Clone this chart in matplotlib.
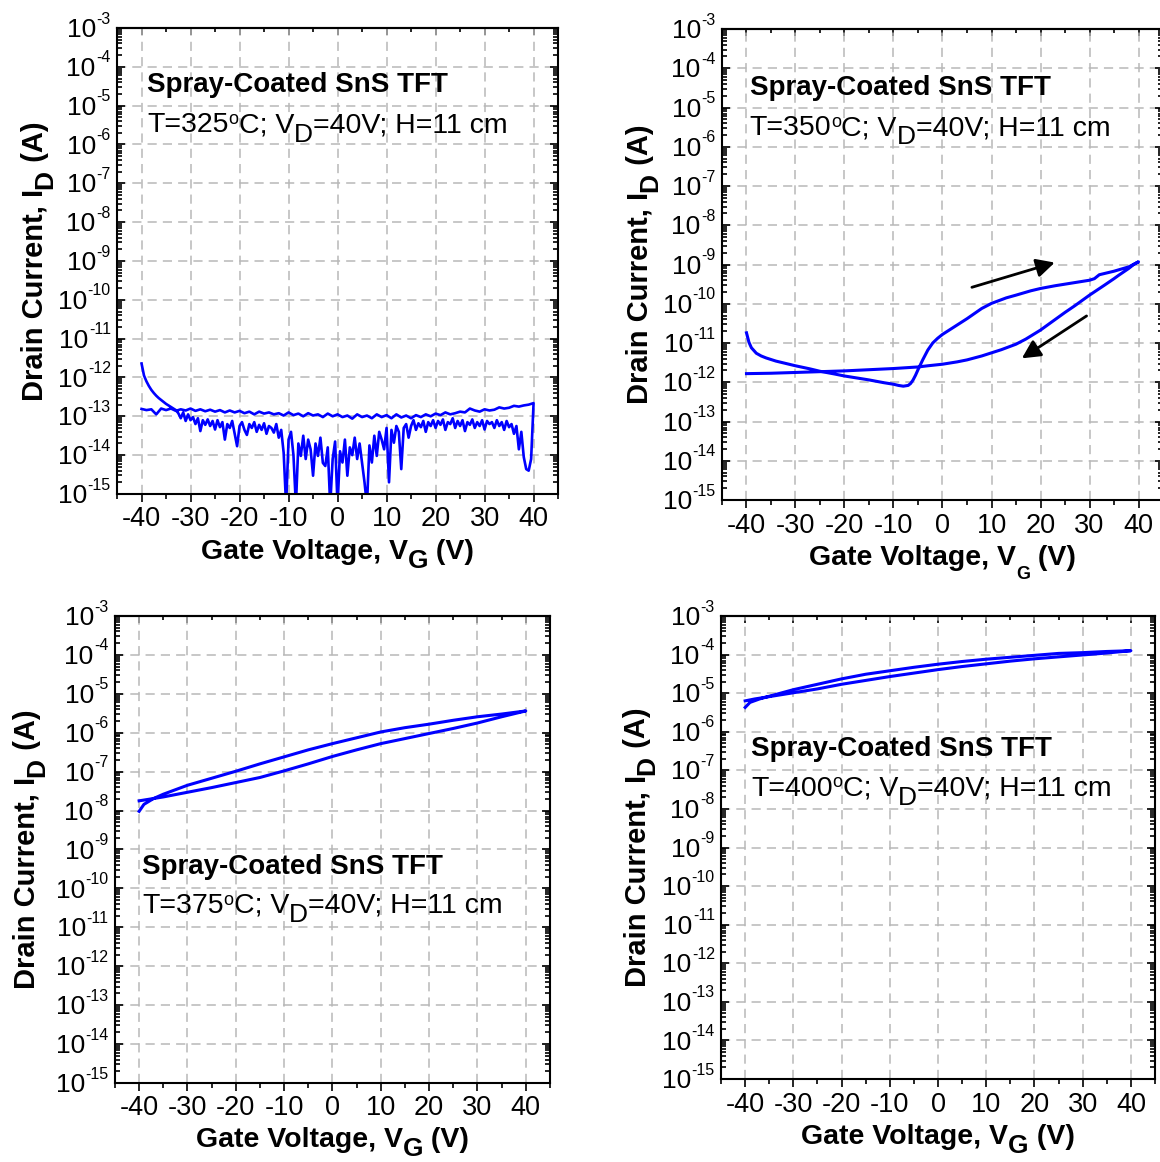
"""Four-panel transfer curves (I_D vs V_G) of spray-coated SnS TFTs."""

import numpy as np
import matplotlib
matplotlib.use("Agg", force=True)
import matplotlib.pyplot as plt
from matplotlib.ticker import LogLocator, MultipleLocator, NullFormatter

matplotlib.rcParams.update({
    "font.family": "Liberation Sans",
    "axes.unicode_minus": False,
})

# --- panel (a) T=325 C: noisy off-current, log10(I_D), sweep -40 -> 40 in 0.5 V steps
P1_FWD_LOG = [
    -11.64, -11.95, -12.10, -12.22, -12.32, -12.40, -12.47, -12.53, -12.58, -12.63,
    -12.68, -12.72, -12.76, -12.80, -12.84, -12.92, -13.05, -12.90, -13.12, -12.95,
    -13.10, -13.02, -13.20, -13.05, -13.38, -13.10, -13.22, -13.08, -13.25, -13.12,
    -13.34, -13.10, -13.28, -13.15, -13.60, -13.20, -13.30, -13.12, -13.45, -13.77,
    -13.25, -13.15, -13.35, -13.48, -13.20, -13.30, -13.15, -13.40, -13.22, -13.35,
    -13.18, -13.45, -13.25, -13.30, -13.42, -13.20, -13.55, -13.35, -13.94, -15.30,
    -13.60, -13.40, -14.00, -15.30, -13.70, -14.02, -13.50, -14.10, -13.60, -13.85,
    -14.53, -13.70, -14.02, -13.55, -14.20, -14.28, -13.80, -15.30, -14.10, -13.65,
    -15.30, -13.90, -14.19, -13.60, -14.53, -13.80, -14.00, -13.55, -14.10, -13.70,
    -14.20, -14.70, -15.30, -13.75, -14.19, -13.50, -14.02, -13.40, -13.60, -13.85,
    -13.30, -14.70, -13.35, -13.68, -13.25, -13.40, -14.36, -13.30, -13.20, -13.55,
    -13.25, -13.10, -13.35, -13.18, -13.28, -13.12, -13.40, -13.15, -13.25, -13.10,
    -13.30, -13.12, -13.22, -13.08, -13.35, -13.15, -13.20, -13.05, -13.30, -13.12,
    -13.25, -13.10, -13.38, -13.15, -13.22, -13.08, -13.30, -13.15, -13.25, -13.10,
    -13.34, -13.12, -13.20, -13.15, -13.30, -13.10, -13.25, -13.15, -13.35, -13.12,
    -13.28, -13.20, -13.45, -13.25, -13.85, -13.40, -14.05, -14.36, -14.40, -14.10,
    -12.66,
]
# return sweep 40 -> -40 in 1 V steps
P1_REV_LOG = [
    -12.66, -12.70, -12.72, -12.75, -12.73, -12.78, -12.80, -12.77, -12.83, -12.85,
    -12.82, -12.88, -12.85, -12.80, -12.90, -12.88, -12.92, -12.95, -12.90, -12.97,
    -12.93, -13.00, -12.95, -13.02, -12.97, -13.05, -12.98, -13.03, -12.95, -13.05,
    -12.97, -13.02, -12.95, -13.05, -12.98, -13.02, -12.95, -13.06, -12.98, -13.02,
    -12.95, -13.00, -12.93, -13.02, -12.95, -12.98, -12.92, -13.00, -12.93, -12.97,
    -12.90, -12.98, -12.92, -12.95, -12.90, -12.93, -12.88, -12.95, -12.88, -12.92,
    -12.86, -12.90, -12.85, -12.90, -12.84, -12.88, -12.83, -12.87, -12.82, -12.86,
    -12.80, -12.85, -12.82, -12.86, -12.80, -12.84, -12.80, -12.95, -12.82, -12.84,
    -12.81,
]

# --- panel (b) T=350 C
P2_FWD_V = [-40, -39.5, -39, -38, -37, -36, -34, -32, -30, -27, -25, -22, -20, -17,
            -15, -12, -10, -9, -8, -7, -6.5, -6, -5.5, -5, -4.5, -4, -3, -2, -1, 0,
            2, 5, 8, 10, 13, 15, 18, 20, 23, 25, 28, 30, 31, 32, 33, 35, 38, 40]
P2_FWD_LOG = [-10.74, -10.98, -11.12, -11.26, -11.33, -11.38, -11.46, -11.52, -11.58,
              -11.66, -11.72, -11.79, -11.84, -11.90, -11.94, -12.01, -12.05, -12.08,
              -12.10, -12.08, -12.03, -11.94, -11.82, -11.68, -11.55, -11.42, -11.18,
              -11.00, -10.88, -10.78, -10.62, -10.38, -10.12, -9.99, -9.85, -9.78,
              -9.67, -9.61, -9.54, -9.50, -9.44, -9.40, -9.36, -9.26, -9.23, -9.17,
              -9.06, -8.93]
P2_REV_V = [40, 39, 38, 36, 35, 33, 30, 27, 25, 22, 20, 17, 15, 12, 10, 8, 5, 3, 0,
            -3, -5, -10, -15, -20, -25, -30, -35, -40]
P2_REV_LOG = [-8.93, -9.00, -9.10, -9.27, -9.36, -9.53, -9.78, -10.05, -10.22, -10.49,
              -10.67, -10.90, -11.03, -11.17, -11.25, -11.33, -11.43, -11.48, -11.54,
              -11.58, -11.61, -11.65, -11.68, -11.71, -11.73, -11.75, -11.77, -11.78]
# sweep-direction arrows: (tail V, tail log I, head V, head log I)
P2_ARROWS = [(6.0, -9.58, 22.9, -8.95), (29.4, -10.31, 16.2, -11.39)]

# --- panel (c) T=375 C
P3_FWD_V = [-40, -39, -37, -35, -30, -25, -20, -15, -10, -5, 0, 5, 10, 15, 20, 25, 30, 35, 40]
P3_FWD_LOG = [-8.02, -7.84, -7.69, -7.58, -7.35, -7.17, -6.99, -6.80, -6.62, -6.44,
              -6.28, -6.13, -5.98, -5.87, -5.78, -5.68, -5.59, -5.52, -5.44]
P3_REV_V = [40, 35, 30, 25, 20, 15, 10, 5, 0, -5, -10, -15, -20, -25, -30, -35, -38, -40]
P3_REV_LOG = [-5.44, -5.59, -5.75, -5.89, -6.02, -6.15, -6.28, -6.44, -6.61, -6.80,
              -6.98, -7.15, -7.28, -7.41, -7.53, -7.65, -7.71, -7.75]

# --- panel (d) T=400 C
P4_FWD_V = [-40, -39, -37, -35, -30, -25, -20, -15, -10, -5, 0, 5, 10, 15, 20, 25, 30, 35, 40]
P4_FWD_LOG = [-5.37, -5.24, -5.15, -5.08, -4.91, -4.77, -4.63, -4.51, -4.42, -4.33,
              -4.25, -4.18, -4.12, -4.07, -4.02, -3.97, -3.95, -3.92, -3.90]
P4_REV_V = [40, 35, 30, 25, 20, 15, 10, 5, 0, -5, -10, -15, -20, -25, -30, -35, -38, -40]
P4_REV_LOG = [-3.90, -3.96, -4.01, -4.06, -4.11, -4.17, -4.24, -4.31, -4.39, -4.48,
              -4.57, -4.67, -4.77, -4.89, -4.99, -5.09, -5.15, -5.20]

TEMPS = [325, 350, 375, 400]
DECADES = list(range(-15, -2))

RECTS = [
    (0.1009, 0.5749, 0.3802, 0.4010),
    (0.6224, 0.5697, 0.3802, 0.4053),
    (0.0991, 0.0680, 0.3750, 0.4019),
    (0.6216, 0.0714, 0.3741, 0.3985),
]
# (text x, title baseline y, condition baseline y, ylabel baseline x, xlabel baseline y)
TEXT_POS = [
    (0.068, 0.862, 0.776, -0.168, -0.1395),
    (0.063, 0.861, 0.775, -0.168, -0.138),
    (0.062, 0.447, 0.364, -0.184, -0.138),
    (0.069, 0.698, 0.612, -0.175, -0.141),
]
# x-label subscript (size, drop) -- panel (b) has a smaller G
XSUB = [(19, 6.5), (13, 10), (19, 6.5), (19, 6.5)]

BLUE = "#0000ff"


def style_axes(ax):
    ax.set_yscale("log")
    ax.set_xlim(-45, 45)
    ax.set_ylim(1e-15, 1e-3)
    ax.xaxis.set_major_locator(MultipleLocator(10))
    ax.xaxis.set_minor_locator(MultipleLocator(5))
    ax.yaxis.set_major_locator(LogLocator(base=10, numticks=100))
    ax.yaxis.set_minor_locator(LogLocator(base=10, subs=np.arange(2, 10), numticks=100))
    ax.yaxis.set_major_formatter(NullFormatter())
    ax.yaxis.set_minor_formatter(NullFormatter())
    ax.grid(True, which="major", color="#b8b8b8", linestyle=(0, (6, 4)), linewidth=1.1)
    for sp in ax.spines.values():
        sp.set_linewidth(1.5)
    ax.tick_params(axis="x", which="both", direction="out", top=False, labelsize=19.5,
                   width=1.2, pad=3)
    ax.tick_params(axis="x", which="major", length=6)
    ax.tick_params(axis="x", which="minor", length=3.5)
    ax.tick_params(axis="y", which="both", direction="in", left=True, right=True, width=1.2)
    ax.tick_params(axis="y", which="major", length=6)
    ax.tick_params(axis="y", which="minor", length=3.5)
    top = ax.secondary_xaxis("top")
    top.xaxis.set_major_locator(MultipleLocator(10))
    top.xaxis.set_minor_locator(MultipleLocator(5))
    top.xaxis.set_major_formatter(NullFormatter())
    top.tick_params(axis="x", which="both", direction="in", width=1.2)
    top.tick_params(axis="x", which="major", length=5)
    top.tick_params(axis="x", which="minor", length=3)
    top.spines["top"].set_linewidth(1.5)


def decade_labels(ax, renderer):
    # Origin-style "10" with a small raised exponent, right-aligned to the spine
    for e in DECADES:
        sup = ax.annotate(f"{e}", xy=(0, 10.0 ** e), xycoords=("axes fraction", "data"),
                          xytext=(-4.5, 3.2), textcoords="offset points",
                          ha="right", va="baseline", fontsize=11.5, annotation_clip=False)
        w = sup.get_window_extent(renderer).width * 72 / ax.figure.dpi
        ax.annotate("10", xy=(0, 10.0 ** e), xycoords=("axes fraction", "data"),
                    xytext=(-4.5 - w - 0.5, -6.6), textcoords="offset points",
                    ha="right", va="baseline", fontsize=19, annotation_clip=False)


def rich_text(ax, x, y, pieces, renderer, rotation=0, center=False, weight="normal"):
    """Place (text, fontsize, baseline shift in pt) pieces one after another."""
    dpi = ax.figure.dpi
    texts, advance = [], 0.0
    for s, size, shift in pieces:
        off = (advance, shift) if rotation == 0 else (-shift, advance)
        t = ax.annotate(s, xy=(x, y), xycoords="axes fraction", xytext=off,
                        textcoords="offset points", ha="left", va="baseline",
                        rotation=rotation, rotation_mode="anchor", fontsize=size,
                        fontweight=weight, annotation_clip=False)
        bb = t.get_window_extent(renderer)
        advance += (bb.width if rotation == 0 else bb.height) * 72 / dpi
        texts.append(t)
    if center:
        for t in texts:
            dx, dy = t.xyann
            t.xyann = (dx - advance / 2, dy) if rotation == 0 else (dx, dy - advance / 2)


def label_axes(ax, temp, pos, xsub, renderer):
    tx, ty1, ty2, ylx, xly = pos
    ax.text(tx, ty1, "Spray-Coated SnS TFT", transform=ax.transAxes, fontsize=20,
            fontweight="bold", ha="left", va="baseline")
    rich_text(ax, tx, ty2, [(f"T={temp}", 20.5, 0), ("o", 13, 6.0), ("C; V", 20.5, 0),
                            ("D", 19, -6.8), ("=40V; H=11 cm", 20.5, 0)], renderer)
    rich_text(ax, ylx, 0.5, [("Drain Current, I", 21, 0), ("D", 19, -6.8), (" (A)", 21, 0)],
              renderer, rotation=90, center=True, weight="bold")
    rich_text(ax, 0.5, xly, [("Gate Voltage, V", 20.5, 0), ("G", xsub[0], -xsub[1]),
                             (" (V)", 20.5, 0)], renderer, center=True, weight="bold")


def plot_loop(ax, v_fwd, log_fwd, v_rev, log_rev, lw=2.2):
    v = np.concatenate([v_fwd, v_rev])
    i = 10.0 ** np.concatenate([log_fwd, log_rev])
    ax.plot(v, i, color=BLUE, linewidth=lw, solid_joinstyle="round")


fig = plt.figure(figsize=(11.6, 11.62), dpi=100)
renderer = fig.canvas.get_renderer()
axes = [fig.add_axes(r) for r in RECTS]
for ax, temp, pos, xsub in zip(axes, TEMPS, TEXT_POS, XSUB):
    style_axes(ax)
    decade_labels(ax, renderer)
    label_axes(ax, temp, pos, xsub, renderer)

plot_loop(axes[0], np.linspace(-40, 40, len(P1_FWD_LOG)), P1_FWD_LOG,
          np.linspace(40, -40, len(P1_REV_LOG)), P1_REV_LOG, lw=1.9)
plot_loop(axes[1], P2_FWD_V, P2_FWD_LOG, P2_REV_V, P2_REV_LOG)
plot_loop(axes[2], P3_FWD_V, P3_FWD_LOG, P3_REV_V, P3_REV_LOG)
plot_loop(axes[3], P4_FWD_V, P4_FWD_LOG, P4_REV_V, P4_REV_LOG)

for x0, y0, x1, y1 in P2_ARROWS:
    axes[1].annotate("", xy=(x1, 10.0 ** y1), xytext=(x0, 10.0 ** y0),
                     arrowprops=dict(arrowstyle="-|>,head_length=0.55,head_width=0.28",
                                     color="black", lw=2, shrinkA=0, shrinkB=0,
                                     mutation_scale=20))

fig.savefig("out.png", dpi=100, facecolor="white")
